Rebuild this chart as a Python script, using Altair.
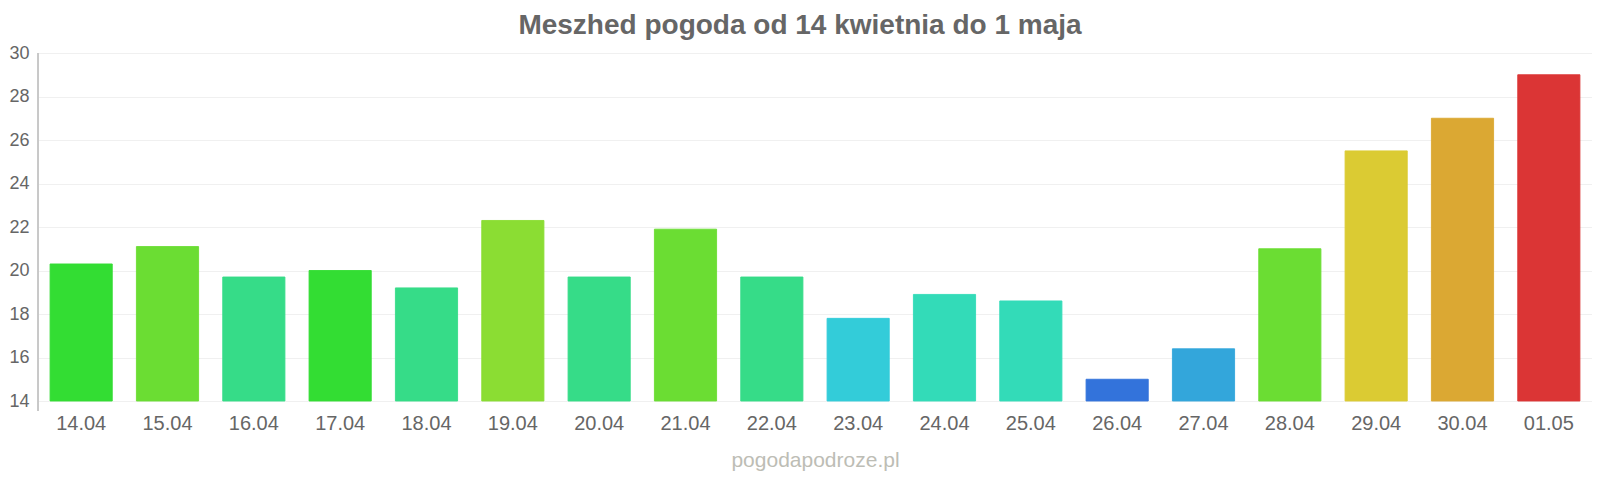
import altair as alt
import pandas as pd

dates = ["14.04", "15.04", "16.04", "17.04", "18.04", "19.04", "20.04", "21.04", "22.04",
         "23.04", "24.04", "25.04", "26.04", "27.04", "28.04", "29.04", "30.04", "01.05"]
temps = [20.3, 21.1, 19.7, 20.0, 19.2, 22.3, 19.7, 21.9, 19.7,
         17.8, 18.9, 18.6, 15.0, 16.4, 21.0, 25.5, 27.0, 29.0]
colors = ["#33dd33", "#6bdd33", "#36dc88", "#33dd33", "#36dc88", "#8bdd33", "#36dc88", "#6bdd33", "#36dc88",
          "#33ccd9", "#33dbb8", "#33dbb8", "#3373db", "#33a6db", "#6bdd33", "#dbcb33", "#dba833", "#db3535"]
y_ticks = [14, 16, 18, 20, 22, 24, 26, 28, 30]

df = pd.DataFrame({"date": dates, "temp": temps, "color": colors})

FONT = "Liberation Sans"

bars = alt.Chart(df).mark_bar(strokeWidth=1, strokeOpacity=0.9).encode(
    x=alt.X("date:N", sort=dates,
            scale=alt.Scale(paddingInner=0.28, paddingOuter=0.14),
            axis=alt.Axis(title="pogodapodroze.pl", labelAngle=0, labelFontSize=20,
                          labelColor="#666666", labelFont=FONT, labelPadding=12,
                          ticks=False, domain=False, grid=False,
                          titleFont=FONT, titleFontSize=21, titleFontWeight="normal",
                          titleColor="#bdbdb5", titlePadding=16)),
    y=alt.Y("temp:Q", scale=alt.Scale(domain=[14, 30], nice=False, zero=False, clamp=True),
            axis=alt.Axis(title=None, values=y_ticks, labelFontSize=18, labelColor="#666666",
                          labelFont=FONT, labelPadding=9, ticks=False,
                          domainColor="#c8c8c8", gridColor="#f0f0f0")),
    y2=alt.datum(14),
    fill=alt.Color("color:N", scale=None),
    stroke=alt.Color("color:N", scale=None),
)

edge = alt.Chart(df).mark_rule(color="#c8c8c8", strokeWidth=1).encode(
    x=alt.value(0), y=alt.value(0), y2=alt.value(358)
)

chart = alt.layer(bars, edge).properties(
    width=1554,
    height=348,
    autosize=alt.AutoSizeParams(type="none"),
    padding={"left": 30, "top": 45, "right": 0, "bottom": 71},
    title=alt.TitleParams(
        text="Meszhed pogoda od 14 kwietnia do 1 maja",
        font=FONT, fontSize=28, fontWeight="bold", color="#666666",
        anchor="middle", dx=-15, dy=28, offset=10, baseline="alphabetic",
    ),
).configure_view(stroke=None).configure(background="white")

chart.save("out.html", embed_options={"renderer": "svg", "actions": False})
